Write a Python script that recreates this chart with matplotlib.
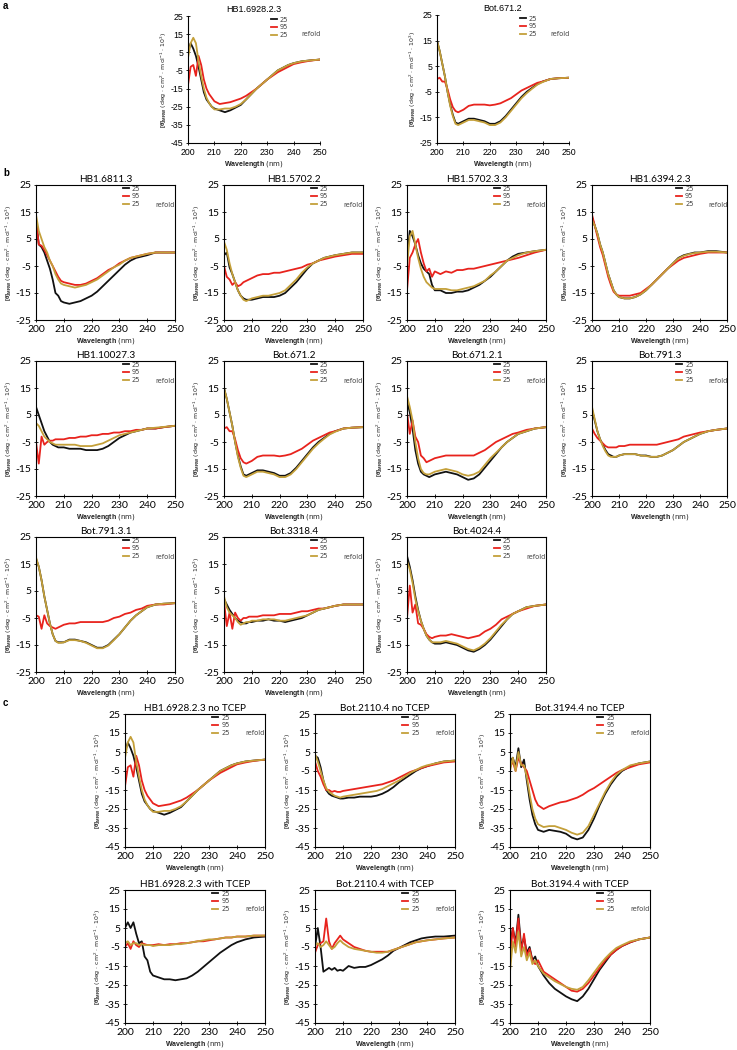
import matplotlib.pyplot as plt
import numpy as np

plt.rcParams['axes.unicode_minus'] = False
plt.rcParams['mathtext.fontset'] = 'custom'
plt.rcParams['mathtext.rm'] = 'Liberation Sans'
plt.rcParams['mathtext.bf'] = 'Liberation Sans:bold'
plt.rcParams['mathtext.it'] = 'Liberation Sans:italic'

# wavelength grid (nm)
wl = [200, 201, 202, 203, 204, 205, 206, 207, 208, 209, 210,
      212, 214, 216, 218, 220, 222, 224, 226, 228, 230, 232, 234, 236, 238, 240,
      243, 246, 250]

# a / c: HB1.6928.2.3 (no TCEP)
hb69_k = [5, 10, 7, 3, -3, -10, -17, -21, -23, -25, -26,
          -27, -28, -27, -25.5, -24, -21, -18, -15, -12.5, -10, -7.5, -5, -3.5, -2, -1, 0, 0.5, 1]
hb69_r = [-13, -3, -2, -8, 3, -2, -10, -15, -18, -20, -22,
          -23.5, -23, -22.5, -21.5, -20.5, -19, -17, -15, -12.5, -10, -8, -6, -4.5, -3, -1.5, -0.5, 0.3, 1]
hb69_g = [2, 10, 13, 10, 0, -8, -15, -20, -23, -25, -26.5,
          -26.5, -26, -26, -25, -23.5, -21, -18, -15, -12.5, -10, -7.5, -5, -3.5, -2, -1, 0, 0.5, 1]

# a / b: Bot.671.2
b671_k = [15, 11, 6, 1, -5, -10, -14, -17, -17.5, -17, -16.5,
          -15.5, -15.5, -16, -16.5, -17.5, -17.5, -16.5, -14.5, -12, -9.5, -7, -5, -3.5, -2, -1, 0, 0.3, 0.5]
b671_r = [0, 0.5, -1, -1, -4, -8, -11, -12.5, -13, -12.5, -12,
          -10.5, -10, -10, -10, -10.3, -10, -9.5, -8.5, -7.5, -6, -4.5, -3.5, -2.5, -1.5, -1, 0, 0.3, 0.5]
b671_g = [15, 11, 6, 1, -5, -10.5, -14.5, -17.5, -18, -17.5, -17,
          -16, -16, -16.5, -17, -18, -18, -17, -15, -12.5, -10, -7.5, -5.5, -3.8, -2.2, -1.2, 0, 0.3, 0.5]

hb6811_k = [12, 3, 2, 0, -3, -6, -10, -15, -16, -18, -18.5,
            -19, -18.5, -18, -17, -16, -14.5, -12.5, -10.5, -8.5, -6.5, -4.5, -3, -2, -1.5, -1, 0, 0, 0]
hb6811_r = [12, 3, 2.5, 1, -1, -3, -5, -7, -9, -10.5, -11,
            -11.5, -12, -12, -11.5, -10.5, -9.5, -8, -6.5, -5.5, -4, -3, -2, -1.5, -1, -0.5, 0, 0, 0]
hb6811_g = [14, 8, 5, 2, 0, -3, -5, -8, -10, -11.5, -12,
            -12.5, -13, -12.5, -12, -11, -10, -8.5, -7, -5.5, -4.5, -3, -2, -1.5, -1, -0.5, 0, 0, 0]

hb5702_k = [-1, 0, -5.5, -8, -11, -14, -16, -17, -17.5, -17.5, -17.5,
            -17, -16.5, -16.5, -16.5, -16, -15, -13, -11, -8.5, -6, -4, -3, -2, -1.5, -1, -0.5, 0, 0]
hb5702_r = [-5, -9, -10, -12, -11, -12.5, -12, -11, -10.5, -10, -9.5,
            -8.5, -8, -8, -7.5, -7.5, -7, -6.5, -6, -5.5, -4.5, -4, -3, -2.5, -2, -1.5, -1, -0.5, -0.5]
hb5702_g = [4, 1, -4, -8, -11, -14, -16, -17.5, -18, -17.5, -17,
            -16.5, -16, -16, -15.5, -15, -14, -12, -10, -7.5, -5.5, -4, -3, -2, -1.5, -1, -0.5, 0, 0]

hb57033_k = [-2, 8, 6, 3, -1, -4, -6, -7, -8, -12, -14,
             -14, -15, -15, -14.5, -14.5, -14, -13, -12, -10.5, -9, -7, -5, -3, -1.5, -0.5, 0, 0.5, 1]
hb57033_r = [-14, -2, 0, 3, 5, 0, -4, -7, -6, -9, -7,
             -8, -7, -7.5, -6.5, -6.5, -6, -6, -5.5, -5, -4.5, -4, -3.5, -3, -2.5, -2, -1, 0, 1]
hb57033_g = [-5, 6, 8, 3, -2, -6, -9, -11, -12, -13, -13.5,
             -13.5, -13.5, -14, -14, -13.5, -13, -12.5, -11.5, -10.5, -8.5, -7, -5, -3, -2, -1, 0, 0.5, 1]

hb6394_k = [13, 10, 7, 3, 0, -4, -8, -11, -14, -15.5, -16.5,
            -17, -17, -16.5, -15.5, -14, -12, -10, -8, -6, -4, -2, -1, -0.5, 0, 0, 0.5, 0.5, 0]
hb6394_r = [14, 10, 6, 2, -1, -5, -9, -12, -14.5, -15.5, -16,
            -16, -16, -15.5, -15, -13.5, -12, -10, -8, -6, -4.5, -3, -2, -1.5, -1, -0.5, 0, 0, 0]
hb6394_g = [12, 10, 7, 3, 0, -4, -8, -11, -14, -15.5, -16.5,
            -17, -17, -16.5, -15.5, -14, -12, -10, -8, -6, -4, -2.2, -1.2, -0.6, -0.2, 0, 0.3, 0.3, 0]

hb10027_k = [8, 5, 2, -1, -3, -5, -6, -6.5, -7, -7, -7,
             -7.5, -7.5, -7.5, -8, -8, -8, -7.5, -6.5, -5, -3.5, -2.5, -1.5, -1, -0.5, 0, 0, 0.5, 1]
hb10027_r = [-5, -13, -3, -6, -5, -4.5, -4.5, -4, -4, -4, -4,
             -3.5, -3.5, -3, -3, -2.5, -2.5, -2, -2, -1.5, -1.5, -1, -1, -0.5, -0.5, 0, 0, 0.5, 1]
hb10027_g = [2, 1, -1, -3, -4, -5, -5.5, -6, -6, -6, -6,
             -6, -6, -6.5, -6.5, -6.5, -6, -5.5, -4.5, -3.5, -2.5, -2, -1.5, -1, -0.5, 0, 0.3, 0.6, 1]

b6712_k = [10, 6, 0, -8, -13, -16, -17, -17.5, -18, -17.5, -17,
           -16.5, -16, -16.5, -17, -18, -19, -18.5, -17, -14.5, -12, -9.5, -7, -5, -3.5, -2, -1, 0, 0.5]
b6712_r = [6, -2, 3, -3, -5, -10, -11, -12.5, -12, -11.5, -11,
           -10.5, -10, -10, -10, -10, -10, -10, -9, -8, -6.5, -5, -4, -3, -2, -1.5, -0.5, 0, 0.5]
b6712_g = [12, 8, 3, -5, -11, -15, -16.5, -17, -17, -16.5, -16,
           -15.5, -15, -15.5, -16, -17, -17.5, -17, -16, -13.5, -11, -9, -7, -5, -3.5, -2, -1, 0, 0.5]

b791_k = [7, 3, -1, -4, -6, -8, -9.5, -10, -10.5, -10.5, -10,
          -9.5, -9.5, -9.5, -10, -10, -10.5, -10.5, -10, -9, -8, -6.5, -5, -4, -3, -2, -1, -0.5, 0]
b791_r = [0, -2, -3.5, -4.5, -5.5, -6.5, -7, -7, -7, -7, -6.5,
          -6.5, -6, -6, -6, -6, -6, -6, -5.5, -5, -4.5, -4, -3, -2.5, -2, -1.5, -1, -0.5, 0]
b791_g = [8, 3.5, -1, -4, -6.5, -8.5, -10, -10.5, -10.5, -10.5, -10,
          -9.5, -9.5, -9.5, -10, -10.2, -10.5, -10.5, -10, -9, -8, -6.5, -5, -4, -3, -2, -1, -0.5, 0]

b7913_k = [17, 14, 9, 3, -2, -7, -11, -13.5, -14, -14, -14,
           -13, -13, -13.5, -14, -15, -16, -16, -15, -13, -11, -8.5, -6, -4, -2.5, -1, 0, 0.3, 0.5]
b7913_r = [-4, -4.5, -9, -4, -7, -8, -8.5, -9, -8.5, -8, -7.5,
           -7, -7, -6.5, -6.5, -6.5, -6.5, -6.5, -6, -5, -4.5, -3.5, -3, -2, -1.5, -0.5, 0, 0, 0.5]
b7913_g = [17.5, 14, 9, 3, -2, -7, -11, -13.5, -14.2, -14.2, -14,
           -13.2, -13.2, -13.5, -14.2, -15.2, -16.2, -16.2, -15.2, -13.2, -11, -8.5, -6, -4, -2.5, -1, 0, 0.3, 0.5]

b3318_k = [2, 0, -2, -3.5, -5, -6, -6.5, -7, -7, -6.5, -6.5,
           -6, -6, -5.5, -6, -6, -6.5, -6, -5.5, -5, -4, -3, -2, -1.5, -1, -0.5, 0, 0, 0]
b3318_r = [1, -8, -3, -9, -3, -5, -6, -5, -5, -4.5, -4.5,
           -4.5, -4, -4, -4, -3.5, -3.5, -3.5, -3, -2.5, -2.5, -2, -1.5, -1.5, -1, -0.5, 0, 0, 0]
b3318_g = [3, -1, -3, -4, -5, -6.5, -7.5, -7, -6.5, -6.5, -6,
           -6, -5.5, -5.5, -5.5, -6, -6, -5.5, -5, -4.5, -4, -3, -2, -1.5, -1, -0.5, 0, 0, 0]

b4024_k = [18, 14, 9, 3, -2, -6, -9, -11.5, -13, -14, -14.5,
           -14.5, -14, -14.5, -15, -16, -17, -17.5, -16.5, -15, -13, -10.5, -8, -5.5, -3.5, -2.5, -1, -0.5, 0]
b4024_r = [-5, 7, -3, 0, -7, -7.5, -9, -11, -12, -12.5, -12,
           -11.5, -11.5, -11, -11.5, -12, -12.5, -12, -11.5, -10, -9, -7.5, -5.5, -4.5, -3.5, -2.5, -1.5, -0.5, 0]
b4024_g = [16, 13, 8, 2, -2.5, -6, -9, -11.5, -13, -14, -14,
           -14, -13.5, -14, -14.5, -15.5, -16.5, -17, -16, -14.5, -12.5, -10, -7.5, -5.5, -3.5, -2.5, -1, -0.5, 0]

b2110_k = [3, 2, -3, -10, -15, -17, -18, -18.5, -19, -19.5, -19.5,
           -19, -19, -18.5, -18.5, -18.5, -18, -17, -15.5, -13.5, -11, -9, -7, -5, -3.5, -2.5, -1, 0, 0.5]
b2110_r = [0, -5, -8, -12, -15, -15, -16, -15.5, -16, -16, -15.5,
           -15, -14.5, -14, -13.5, -13, -12.5, -12, -11, -10, -8.5, -7, -5.5, -4.5, -3.5, -2.5, -1.5, -0.5, 0]
b2110_g = [4, 0, -5, -10, -14, -16, -17, -18, -18.5, -19, -18.5,
           -18, -17.5, -17, -16.5, -16, -15.5, -14.5, -13, -11.5, -10, -8, -6, -4.5, -3, -2, -1, 0, 0.5]

b3194_k = [0, 2, -3, 7, -3, 1, -10, -20, -28, -33, -36,
           -37, -36, -36.5, -37, -38, -40, -41, -40, -36, -30, -23, -17, -12, -8, -5, -2.5, -1, 0]
b3194_r = [-3, 0, -5, 2, -1, -3, -5, -10, -15, -20, -23,
           -25, -23.5, -22.5, -21.5, -21, -20, -19, -17.5, -15.5, -14, -12, -10, -8, -6, -4.5, -3, -1.5, -0.5]
b3194_g = [-5, 2, -5, 5, -2, -2, -8, -17, -25, -30, -33,
           -34.5, -34, -34, -35, -36, -37.5, -38.5, -37.5, -34, -28, -22, -16, -11, -7, -4.5, -2, -1, 0]

hb69t_k = [5, 8, 5, 8, 2, -3, -2, -10, -12, -18, -20,
           -21, -22, -22, -22.5, -22, -21.5, -20, -18, -15.5, -13, -10.5, -8, -6, -4, -2.5, -1, 0, 0.5]
hb69t_r = [-5, -3, -6, -2, -4, -5, -3, -3.5, -4, -4, -4,
           -3.5, -4, -3.5, -3.5, -3, -3, -2.5, -2, -2, -1.5, -1, -0.5, 0, 0, 0.5, 0.5, 1, 1]
hb69t_g = [-3, -2, -4, -3, -3, -4, -3.5, -4, -4, -4, -4.5,
           -4, -4, -4, -3.5, -3.5, -3, -2.5, -2, -1.5, -1, -1, -0.5, 0, 0, 0.5, 0.5, 1, 1]

b2110t_k = [-5, 5, -5, -18, -17, -16, -17, -16, -17.5, -17, -17.5,
            -15, -16, -15.5, -15.5, -14.5, -13, -11.5, -9.5, -7, -5.5, -4, -2.5, -1.5, -0.5, 0, 0.5, 0.5, 1]
b2110t_r = [-8, -4, -3, -2, 10, -2, -6, -3, -1, 1, -1,
            -3, -5, -6, -7, -7.5, -7.5, -7.5, -7.5, -6.5, -5.5, -4.5, -3.5, -2.5, -2, -1.5, -1, -0.5, 0]
b2110t_g = [-4, -3, -5, -4, -2, -4, -6, -5, -3, -1.5, -3,
            -5, -6, -6.5, -7, -7.5, -8, -8, -7.5, -6.5, -5.5, -4.5, -3.5, -2.5, -2, -1.5, -1, -0.5, 0]

b3194t_k = [-5, 5, -3, 12, -5, 0, -8, -5, -12, -10, -15,
            -20, -24, -27, -29, -31, -32.5, -33.5, -31, -27, -22, -17, -13, -9, -6.5, -4.5, -2.5, -1, 0]
b3194t_r = [-10, 5, -5, 10, -8, 2, -10, -6, -12, -14, -12,
            -18, -20, -22, -24, -26, -28, -28.5, -27, -24, -20, -16, -12, -9, -6.5, -4.5, -2.5, -1, 0]
b3194t_g = [-18, -2, -8, 3, -10, -5, -12, -8, -14, -12, -15,
            -19, -21, -23, -24.5, -26, -27, -27.5, -26, -22.5, -18.5, -14.5, -11, -8, -5.5, -4, -2, -1, 0]

K, R, G = '#111111', '#e8231d', '#c4a03a'
W, H = 737, 1050


def box(l, t, w, h):
    return [l / W, 1 - (t + h) / H, w / W, h / H]


fig = plt.figure(figsize=(W / 100, H / 100), dpi=100)


def panel(rect, title, k, r, g, ylo, style):
    ax = fig.add_axes(rect)
    fam = 'Liberation Sans' if style == 'a' else 'Lato'
    tfs = 6.5 if style == 'a' else 7.2
    kfs = 6.3 if style == 'a' else 7.5
    ax.plot(wl, k, color=K, lw=1.3, label='25')
    ax.plot(wl, r, color=R, lw=1.3, label='95')
    ax.plot(wl, g, color=G, lw=1.3, label='25')
    ax.set_xlim(200, 250)
    ax.set_ylim(ylo, 25)
    ax.set_xticks(np.arange(200, 251, 10))
    ax.set_yticks(np.arange(ylo, 26, 10))
    ax.set_title(title, fontsize=tfs, family=fam, pad=3 if style == 'a' else 2)
    for lab in ax.get_xticklabels() + ax.get_yticklabels():
        lab.set_family(fam)
        lab.set_fontsize(kfs)
    ax.tick_params(direction='inout', length=3.5, width=0.6, pad=1.5)
    for s in ax.spines.values():
        s.set_linewidth(0.8)
    if style == 'a':
        ax.spines['top'].set_visible(False)
        ax.spines['right'].set_visible(False)
    ax.set_xlabel(r'$\mathbf{Wavelength}$ (nm)', fontsize=5, labelpad=1.5, color='#222222')
    ax.set_ylabel(r'$\mathbf{[\theta]_{MRW}}$ (deg · cm$^2$ · mol$^{-1}$ · 10$^3$)',
                  fontsize=4.5, labelpad=1.5, color='#222222')
    leg = ax.legend(frameon=False, loc='upper left', bbox_to_anchor=(0.62, 1.0),
                    fontsize=4.8, handlelength=0.9, labelspacing=0.25,
                    handletextpad=0.4, borderpad=0.1, borderaxespad=0)
    for t in leg.get_texts():
        t.set_color('#444444')
    ax.text(0.86, 0.855, 'refold', transform=ax.transAxes, fontsize=4.8,
            color='#444444', va='center')
    return ax


# row a
panel(box(188, 16, 132, 127), 'HB1.6928.2.3', hb69_k, hb69_r, hb69_g, -45, 'a')
panel(box(437, 15, 132, 128), 'Bot.671.2', b671_k, b671_r, b671_g, -25, 'a')

# row b
bl = [36, 224, 407, 592]
bw = [139, 139, 139, 135]
bt = [185, 361, 537]
b_list = [
    ('HB1.6811.3', hb6811_k, hb6811_r, hb6811_g),
    ('HB1.5702.2', hb5702_k, hb5702_r, hb5702_g),
    ('HB1.5702.3.3', hb57033_k, hb57033_r, hb57033_g),
    ('HB1.6394.2.3', hb6394_k, hb6394_r, hb6394_g),
    ('HB1.10027.3', hb10027_k, hb10027_r, hb10027_g),
    ('Bot.671.2', b671_k, b671_r, b671_g),
    ('Bot.671.2.1', b6712_k, b6712_r, b6712_g),
    ('Bot.791.3', b791_k, b791_r, b791_g),
    ('Bot.791.3.1', b7913_k, b7913_r, b7913_g),
    ('Bot.3318.4', b3318_k, b3318_r, b3318_g),
    ('Bot.4024.4', b4024_k, b4024_r, b4024_g),
]
for i, (t, k, r, g) in enumerate(b_list):
    panel(box(bl[i % 4], bt[i // 4], bw[i % 4], 135), t, k, r, g, -25, 'b')

# row c
cl = [125, 315, 510]
ct = [714, 890]
c_list = [
    ('HB1.6928.2.3 no TCEP', hb69_k, hb69_r, hb69_g),
    ('Bot.2110.4 no TCEP', b2110_k, b2110_r, b2110_g),
    ('Bot.3194.4 no TCEP', b3194_k, b3194_r, b3194_g),
    ('HB1.6928.2.3 with TCEP', hb69t_k, hb69t_r, hb69t_g),
    ('Bot.2110.4 with TCEP', b2110t_k, b2110t_r, b2110t_g),
    ('Bot.3194.4 with TCEP', b3194t_k, b3194t_r, b3194t_g),
]
for i, (t, k, r, g) in enumerate(c_list):
    panel(box(cl[i % 3], ct[i // 3], 140, 133), t, k, r, g, -45, 'c')

for letter, y in [('a', 6), ('b', 173), ('c', 703)]:
    fig.text(3 / W, 1 - y / H, letter, fontsize=7, fontweight='bold', va='center',
             family='Liberation Sans')

fig.savefig('out.png', dpi=100)
